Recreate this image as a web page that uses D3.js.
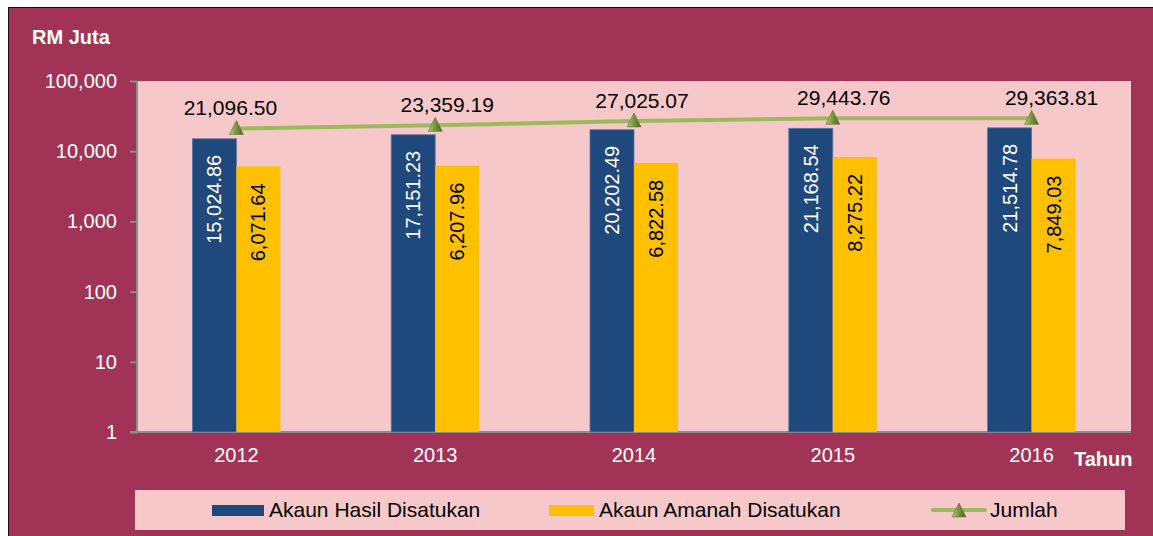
<!DOCTYPE html>
<html>
<head>
<meta charset="utf-8">
<script src="https://cdn.jsdelivr.net/npm/d3@7"></script>
<style>
  body { margin: 0; background: #fff; }
  text { font-family: "Liberation Sans", Arial, sans-serif; }
</style>
</head>
<body>
<div id="chart"></div>
<script>
// data
var years = ["2012", "2013", "2014", "2015", "2016"];
var hasil = [15024.86, 17151.23, 20202.49, 21168.54, 21514.78];
var amanah = [6071.64, 6207.96, 6822.58, 8275.22, 7849.03];
var jumlah = [21096.50, 23359.19, 27025.07, 29443.76, 29363.81];
var yTicks = [1, 10, 100, 1000, 10000, 100000];
// the jumlah labels were nudged by hand in the original
var labelDx = [-6, 12, 8, 11, 20];

var W = 1153, H = 536;
var svg = d3.select("#chart").append("svg").attr("width", W).attr("height", H);

// outer frame
svg.append("rect").attr("x", 8.5).attr("y", 7.5).attr("width", W).attr("height", H)
  .attr("fill", "#A13456").attr("stroke", "#111").attr("stroke-width", 1);

var plot = {left: 137, right: 1131, top: 81, bottom: 432};
svg.append("rect").attr("x", plot.left).attr("y", plot.top)
  .attr("width", plot.right - plot.left).attr("height", plot.bottom - plot.top).attr("fill", "#F6C8C9");

var x = d3.scaleBand().domain(years).range([plot.left, plot.right]);
var y = d3.scaleLog().domain([1, 100000]).range([plot.bottom, plot.top]);
var fmt = d3.format(",.2f");
var barW = 44;

// y axis
var yAxis = svg.append("g").attr("transform", "translate(" + plot.left + ",0)")
  .call(d3.axisLeft(y).tickValues(yTicks).tickFormat(d3.format(",")).tickSize(7).tickPadding(13));
yAxis.select(".domain").attr("stroke", "#8c8c8c").attr("stroke-width", 2).attr("d", "M0," + plot.top + "V" + plot.bottom);
yAxis.selectAll(".tick line").attr("stroke", "#8c8c8c").attr("stroke-width", 2);
yAxis.selectAll(".tick text").attr("fill", "#fff").style("font-size", "20px");

// x axis
var xAxis = svg.append("g").attr("transform", "translate(0," + plot.bottom + ")")
  .call(d3.axisBottom(x).tickSize(0).tickPadding(16));
xAxis.select(".domain").attr("stroke", "#8c8c8c").attr("stroke-width", 2).attr("d", "M130,0H" + plot.right);
xAxis.selectAll(".tick text").attr("fill", "#fff").style("font-size", "20px");

// bars
var cx = function(d, i){ return x(years[i]) + x.bandwidth() / 2; };
svg.selectAll("rect.hasil").data(hasil).enter().append("rect").attr("class", "hasil")
  .attr("x", function(d, i){ return cx(d, i) - barW; }).attr("y", function(d){ return y(d); })
  .attr("width", barW).attr("height", function(d){ return plot.bottom - y(d); })
  .attr("fill", "#1F497D").attr("stroke", "#5a76a8").attr("stroke-width", 0.8);
svg.selectAll("rect.amanah").data(amanah).enter().append("rect").attr("class", "amanah")
  .attr("x", function(d, i){ return cx(d, i); }).attr("y", function(d){ return y(d); })
  .attr("width", barW).attr("height", function(d){ return plot.bottom - y(d); })
  .attr("fill", "#FFC000");

// bar labels, rotated
svg.selectAll("text.hl").data(hasil).enter().append("text").attr("class", "hl")
  .attr("transform", function(d, i){ return "translate(" + (cx(d, i) - barW / 2 + 7) + "," + (y(d) + 16) + ")rotate(-90)"; })
  .attr("text-anchor", "end").attr("fill", "#fff").style("font-size", "20px").text(function(d){ return fmt(d); });
svg.selectAll("text.al").data(amanah).enter().append("text").attr("class", "al")
  .attr("transform", function(d, i){ return "translate(" + (cx(d, i) + barW / 2 + 7) + "," + (y(d) + 17) + ")rotate(-90)"; })
  .attr("text-anchor", "end").attr("fill", "#000").style("font-size", "20px").text(function(d){ return fmt(d); });

// jumlah line
var line = d3.line().x(function(d, i){ return cx(d, i); }).y(function(d){ return y(d); });
svg.append("path").datum(jumlah).attr("d", line).attr("fill", "none")
  .attr("stroke", "#9BBB59").attr("stroke-width", 4);

var defs = svg.append("defs");
var grad = defs.append("linearGradient").attr("id", "tri").attr("x1", 0).attr("x2", 1).attr("y1", 0).attr("y2", 0);
grad.append("stop").attr("offset", "0%").attr("stop-color", "#b5cf7e");
grad.append("stop").attr("offset", "50%").attr("stop-color", "#77933C");
grad.append("stop").attr("offset", "100%").attr("stop-color", "#4f6627");

function triangle(g){
  g.append("path").attr("d", "M0,-8L7,6L-7,6Z").attr("fill", "url(#tri)").attr("stroke", "#5b7330").attr("stroke-width", 0.6);
}
svg.selectAll("g.mk").data(jumlah).enter().append("g").attr("class", "mk")
  .attr("transform", function(d, i){ return "translate(" + cx(d, i) + "," + y(d) + ")"; })
  .call(triangle);
svg.selectAll("text.jl").data(jumlah).enter().append("text").attr("class", "jl")
  .attr("x", function(d, i){ return cx(d, i) + labelDx[i]; }).attr("y", function(d){ return y(d) - 13; })
  .attr("text-anchor", "middle").attr("fill", "#000").style("font-size", "21px").text(function(d){ return fmt(d); });

// axis titles
svg.append("text").attr("x", 32).attr("y", 44).attr("fill", "#fff").style("font-size", "20px").style("font-weight", "bold").text("RM Juta");
svg.append("text").attr("x", 1074).attr("y", 466).attr("fill", "#fff").style("font-size", "20px").style("font-weight", "bold").text("Tahun");

// legend
svg.append("rect").attr("x", 135).attr("y", 490).attr("width", 990).attr("height", 40).attr("fill", "#F6C8C9");
var lg = svg.append("g").style("font-size", "21px");
lg.append("rect").attr("x", 212).attr("y", 505).attr("width", 52).attr("height", 11).attr("fill", "#1F497D");
lg.append("text").attr("x", 269).attr("y", 517).attr("fill", "#000").text("Akaun Hasil Disatukan");
lg.append("rect").attr("x", 549).attr("y", 505).attr("width", 45).attr("height", 11).attr("fill", "#FFC000");
lg.append("text").attr("x", 599).attr("y", 517).attr("fill", "#000").text("Akaun Amanah Disatukan");
lg.append("line").attr("x1", 933).attr("x2", 985).attr("y1", 510).attr("y2", 510)
  .attr("stroke", "#9BBB59").attr("stroke-width", 4).attr("stroke-linecap", "round");
lg.append("g").attr("transform", "translate(959,511)").call(triangle);
lg.append("text").attr("x", 990).attr("y", 517).attr("fill", "#000").text("Jumlah");
</script>
</body>
</html>
